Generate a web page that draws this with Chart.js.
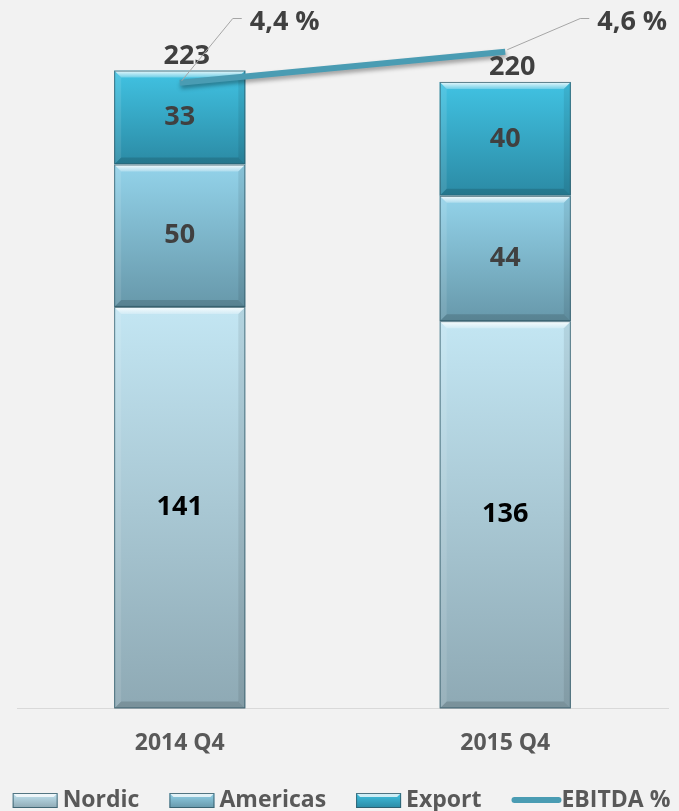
<!DOCTYPE html>
<html>
<head>
<meta charset="utf-8">
<script src="https://cdn.jsdelivr.net/npm/chart.js@4.4.0/dist/chart.umd.min.js"></script>
<style>
	html, body { margin: 0; padding: 0; background: #f2f2f2; }
	canvas { display: block; }
</style>
</head>
<body>
<canvas id="myChart" width="679" height="811"></canvas>
<script>
// data
const categories = ["2014 Q4", "2015 Q4"];
const nordic = [141, 136];
const americas = [50, 44];
const exportSales = [33, 40];
const totals = [223, 220];
const ebitdaPct = [4.4, 4.6];
const ebitdaText = ["4,4 %", "4,6 %"];

// top / bottom colours of each stacked segment
const segColors = [
	["#c3e6f3", "#8ea9b4"],
	["#93d3ea", "#6798aa"],
	["#41c3e3", "#2b8aa4"],
];
const lineColor = "#4a9cb3";
const fontFam = "'Open Sans', Lato, sans-serif";

// horizontal offset of the EBITDA labels from their point
const ebitdaLabelDx = [70, 92];

function segGradient(c) {
	let chart = c.chart;
	let cols = segColors[c.datasetIndex];
	if (!chart.chartArea || c.dataIndex === undefined) return cols[0];
	let y = chart.scales.y;
	let start = 0;
	for (let i = 0; i < c.datasetIndex; i++) {
		start += chart.data.datasets[i].data[c.dataIndex];
	}
	let end = start + chart.data.datasets[c.datasetIndex].data[c.dataIndex];
	let g = chart.ctx.createLinearGradient(0, y.getPixelForValue(end), 0, y.getPixelForValue(start));
	g.addColorStop(0, cols[0]);
	g.addColorStop(1, cols[1]);
	return g;
}

// bevel look on every bar segment, drawn before the line goes on top
const bevelPlugin = {
	id: "bevel",
	afterDatasetDraw(chart, args) {
		if (args.meta.type !== "bar") return;
		let ctx = chart.ctx;
		let b = 7;
		args.meta.data.forEach((el) => {
			let p = el.getProps(["x", "y", "base", "width"], true);
			let l = p.x - p.width / 2, r = p.x + p.width / 2;
			let t = Math.min(p.y, p.base), bt = Math.max(p.y, p.base);
			ctx.save();
			let g = ctx.createLinearGradient(0, t, 0, t + b);
			g.addColorStop(0, "rgba(255,255,255,0.9)");
			g.addColorStop(1, "rgba(255,255,255,0.25)");
			ctx.fillStyle = g;
			ctx.beginPath();
			ctx.moveTo(l, t); ctx.lineTo(r, t); ctx.lineTo(r - b, t + b); ctx.lineTo(l + b, t + b);
			ctx.closePath(); ctx.fill();
			ctx.fillStyle = "rgba(255,255,255,0.10)";
			ctx.beginPath();
			ctx.moveTo(l, t); ctx.lineTo(l + b, t + b); ctx.lineTo(l + b, bt - b); ctx.lineTo(l, bt);
			ctx.closePath(); ctx.fill();
			ctx.fillStyle = "rgba(0,0,0,0.08)";
			ctx.beginPath();
			ctx.moveTo(r, t); ctx.lineTo(r - b, t + b); ctx.lineTo(r - b, bt - b); ctx.lineTo(r, bt);
			ctx.closePath(); ctx.fill();
			ctx.fillStyle = "rgba(0,0,0,0.14)";
			ctx.beginPath();
			ctx.moveTo(l, bt); ctx.lineTo(r, bt); ctx.lineTo(r - b, bt - b); ctx.lineTo(l + b, bt - b);
			ctx.closePath(); ctx.fill();
			ctx.strokeStyle = "rgba(45,85,100,0.75)";
			ctx.lineWidth = 1;
			ctx.strokeRect(l + 0.5, t + 0.5, p.width - 1, bt - t - 1);
			ctx.restore();
		});
	},
	beforeDatasetDraw(chart, args) {
		if (args.meta.type !== "line") return;
		let ctx = chart.ctx;
		ctx.save();
		ctx.shadowColor = "rgba(0,0,0,0.35)";
		ctx.shadowBlur = 4;
		ctx.shadowOffsetX = 1;
		ctx.shadowOffsetY = 3;
	},
};
// restore after the line dataset
const lineShadowEnd = {
	id: "lineShadowEnd",
	afterDatasetDraw(chart, args) {
		if (args.meta.type === "line") chart.ctx.restore();
	},
};

// value labels, totals and EBITDA labels with leader lines
const labelPlugin = {
	id: "labels",
	afterDatasetsDraw(chart) {
		let ctx = chart.ctx;
		ctx.save();
		ctx.font = "bold 27px " + fontFam;
		ctx.textAlign = "center";
		ctx.textBaseline = "middle";
		for (let d = 0; d < 3; d++) {
			chart.getDatasetMeta(d).data.forEach((el, i) => {
				ctx.fillStyle = d === 0 ? "#000000" : "#404040";
				ctx.fillText(String(chart.data.datasets[d].data[i]), el.x, (el.y + el.base) / 2);
			});
		}
		let topMeta = chart.getDatasetMeta(2);
		ctx.fillStyle = "#404040";
		topMeta.data.forEach((el, i) => {
			ctx.fillText(String(totals[i]), el.x + 7, el.y - 14.5);
		});
		let lineMeta = chart.getDatasetMeta(3);
		lineMeta.data.forEach((pt, i) => {
			let lx = pt.x + ebitdaLabelDx[i];
			ctx.strokeStyle = "#a6a6a6";
			ctx.lineWidth = 1;
			ctx.beginPath();
			ctx.moveTo(pt.x + 2, pt.y - 2);
			ctx.lineTo(lx - 17, 18.5);
			ctx.lineTo(lx - 8, 18.5);
			ctx.stroke();
			ctx.textAlign = "left";
			ctx.fillStyle = "#404040";
			ctx.fillText(ebitdaText[i], lx, 22);
		});
		ctx.restore();
	},
};

// bottom legend
const legendPlugin = {
	id: "customLegend",
	afterDraw(chart) {
		let ctx = chart.ctx;
		ctx.save();
		ctx.font = "bold 23px " + fontFam;
		ctx.textBaseline = "middle";
		let ds = chart.data.datasets;
		let boxW = 45, gap = 5, itemGap = 30;
		let widths = ds.map((d) => boxW + gap + ctx.measureText(d.label).width);
		let total = widths.reduce((a, b) => a + b, 0) + itemGap * (ds.length - 1);
		let x = (chart.width - total) / 2 + 2;
		let cy = 800;
		ds.forEach((d, i) => {
			if (d.type === "line") {
				ctx.strokeStyle = lineColor;
				ctx.lineWidth = 6;
				ctx.lineCap = "round";
				ctx.beginPath();
				ctx.moveTo(x + 3, cy);
				ctx.lineTo(x + boxW + 2, cy);
				ctx.stroke();
			} else {
				let g = ctx.createLinearGradient(0, cy - 7, 0, cy + 8);
				g.addColorStop(0, segColors[i][0]);
				g.addColorStop(1, segColors[i][1]);
				ctx.fillStyle = g;
				ctx.fillRect(x, cy - 7, boxW, 15);
				ctx.fillStyle = "rgba(255,255,255,0.75)";
				ctx.beginPath();
				ctx.moveTo(x, cy - 7); ctx.lineTo(x + boxW, cy - 7);
				ctx.lineTo(x + boxW - 4, cy - 3); ctx.lineTo(x + 4, cy - 3);
				ctx.closePath(); ctx.fill();
				ctx.strokeStyle = "rgba(45,85,100,0.8)";
				ctx.lineWidth = 1;
				ctx.strokeRect(x + 0.5, cy - 6.5, boxW - 1, 14);
			}
			ctx.fillStyle = "#595959";
			ctx.textAlign = "left";
			ctx.fillText(d.label, x + boxW + gap, cy);
			x += widths[i] + itemGap;
		});
		ctx.restore();
	},
};

let ctx = document.getElementById("myChart").getContext("2d");
let myChart = new Chart(ctx, {
	data: {
		labels: categories,
		datasets: [
			{ type: "bar", label: "Nordic", data: nordic, backgroundColor: segGradient, borderWidth: 0, order: 1 },
			{ type: "bar", label: "Americas", data: americas, backgroundColor: segGradient, borderWidth: 0, order: 1 },
			{ type: "bar", label: "Export", data: exportSales, backgroundColor: segGradient, borderWidth: 0, order: 1 },
			{
				type: "line",
				label: "EBITDA %",
				data: ebitdaPct,
				yAxisID: "y1",
				borderColor: lineColor,
				borderWidth: 6,
				pointRadius: 0,
				tension: 0,
				order: 0,
			},
		],
	},
	options: {
		responsive: false,
		animation: false,
		devicePixelRatio: 1,
		categoryPercentage: 1,
		barPercentage: 0.403,
		layout: { padding: { top: 25, left: 17, right: 11, bottom: 33 } },
		plugins: { legend: { display: false }, tooltip: { enabled: false } },
		scales: {
			x: {
				stacked: true,
				grid: { display: false, drawTicks: false },
				border: { display: true, color: "#d9d9d9", width: 1 },
				ticks: { color: "#595959", padding: 21, font: { family: fontFam, size: 23, weight: "bold" } },
			},
			y: { stacked: true, display: false, min: 0, max: 240 },
			y1: { display: false, min: 0.374, max: 4.772 },
		},
	},
	plugins: [bevelPlugin, lineShadowEnd, labelPlugin, legendPlugin],
});
</script>
</body>
</html>
